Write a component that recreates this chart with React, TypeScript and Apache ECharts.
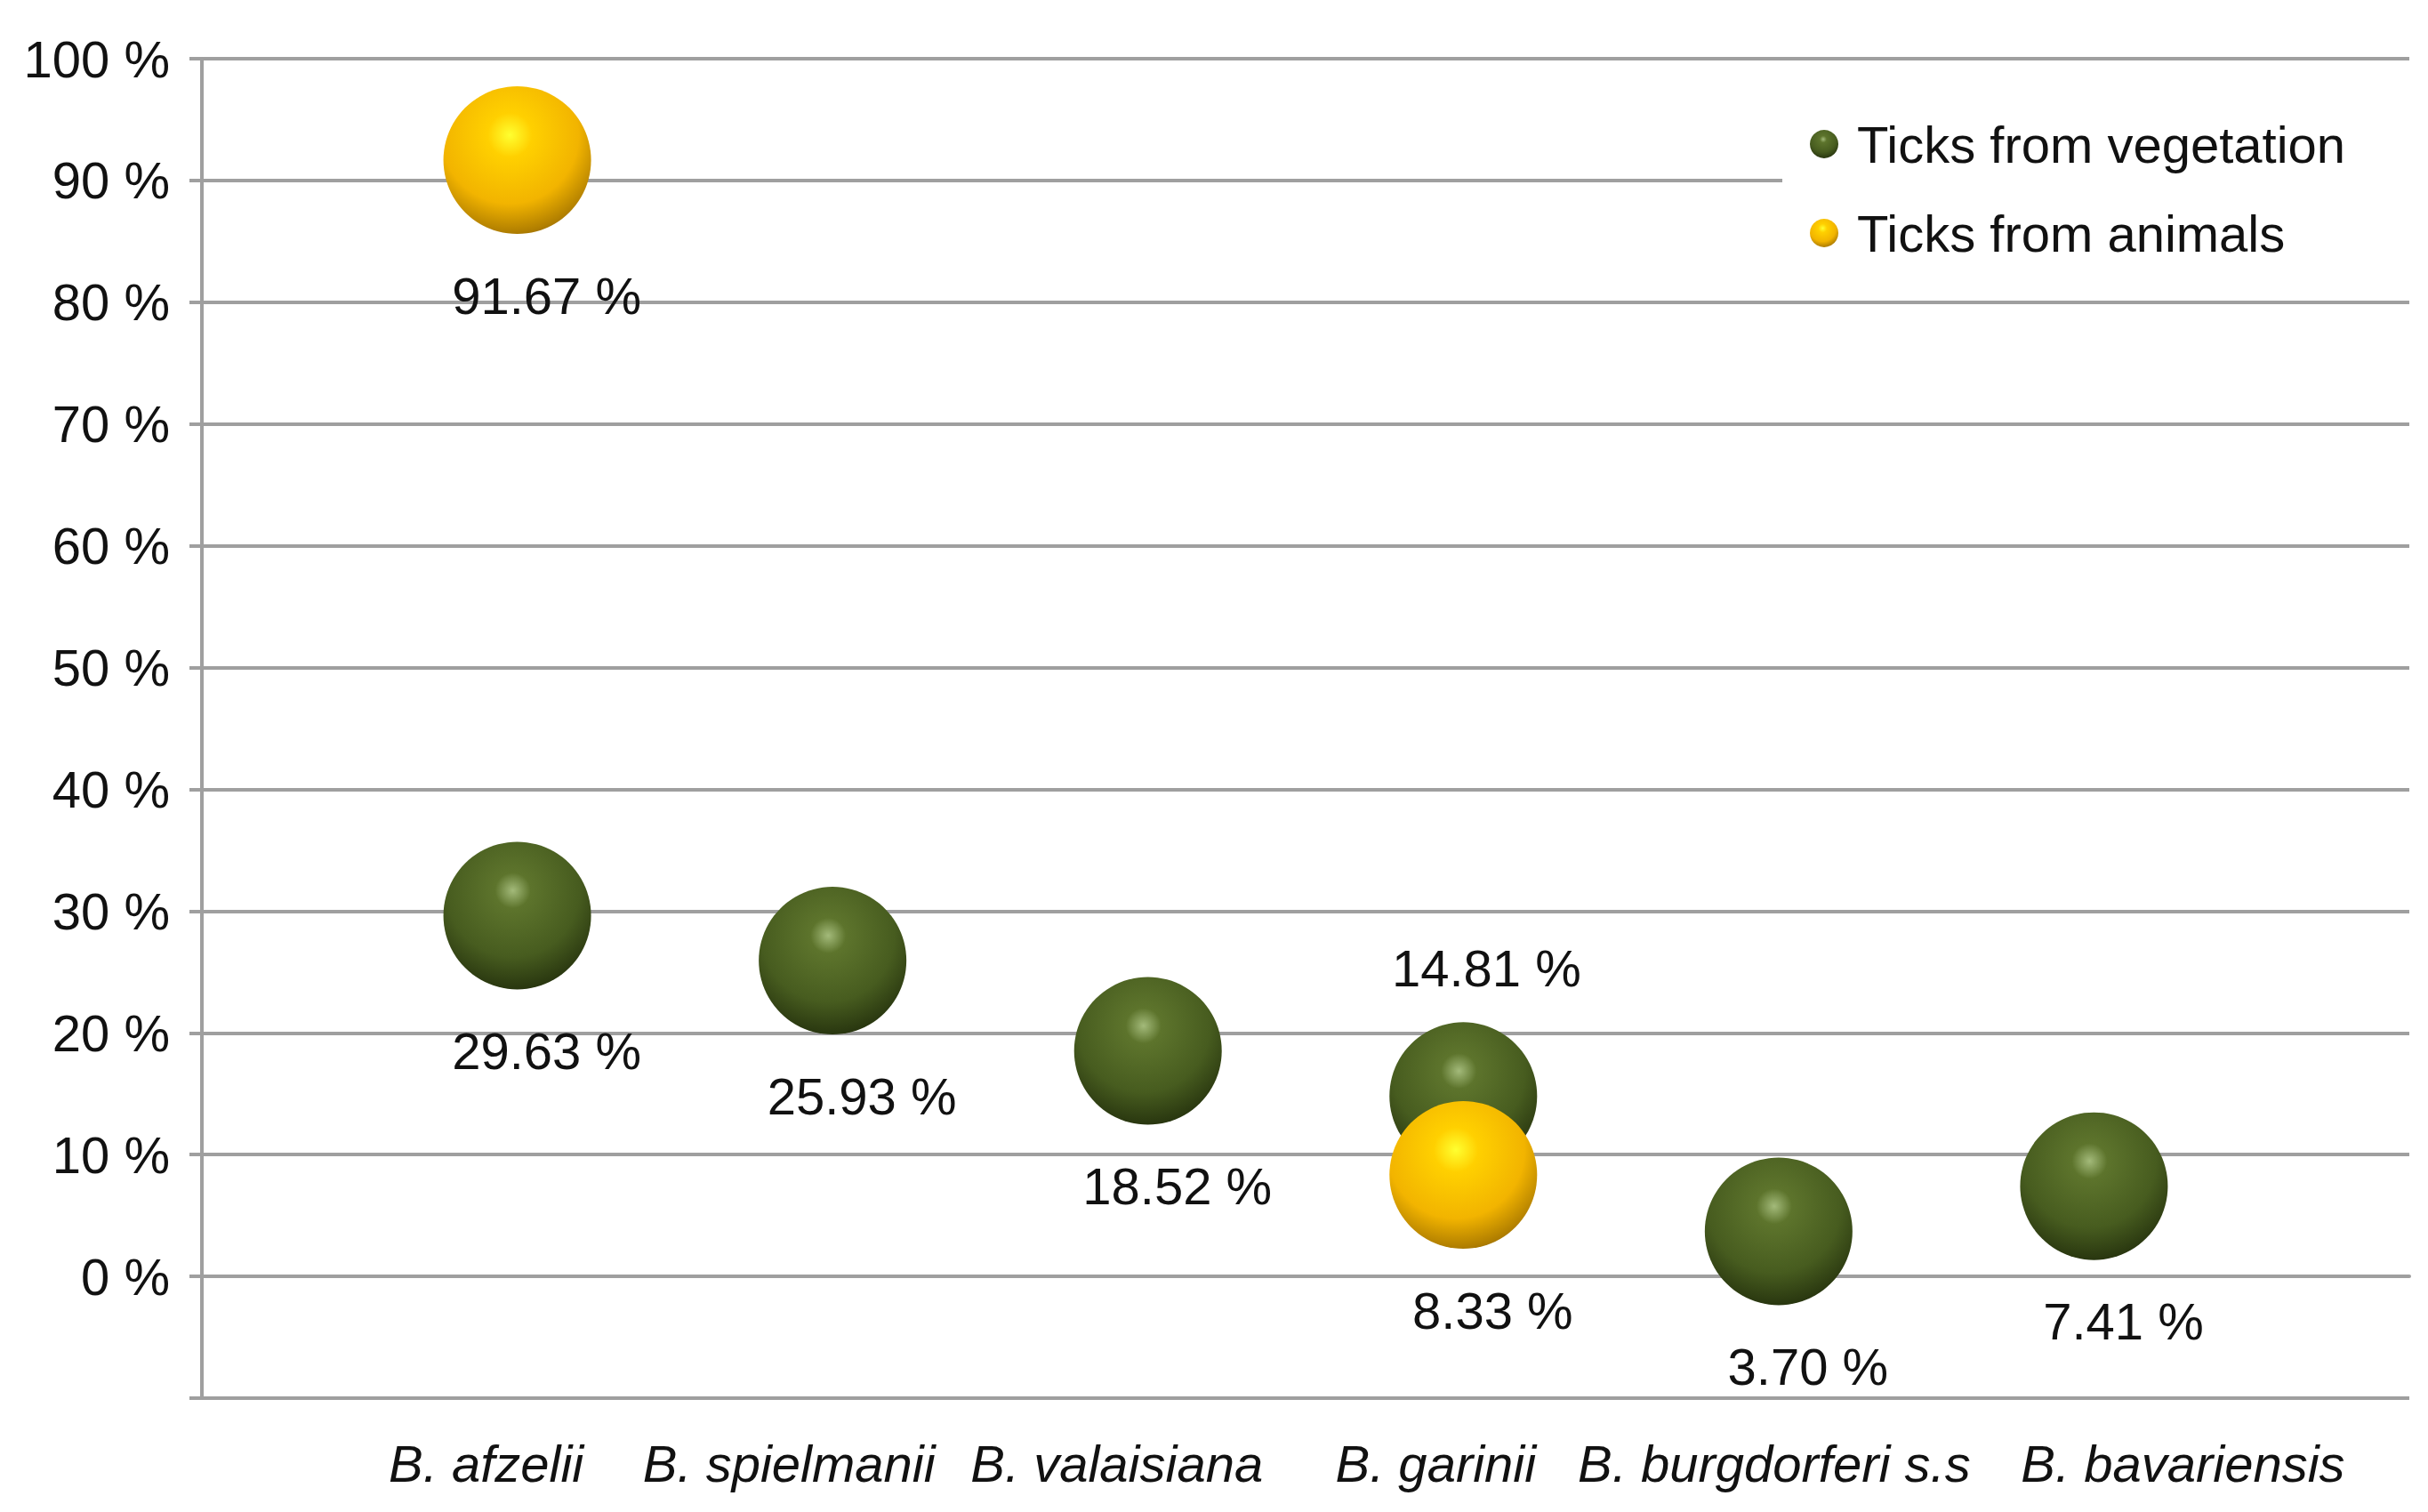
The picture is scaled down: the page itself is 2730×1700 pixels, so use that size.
import { useEffect, useRef } from 'react';
import * as echarts from 'echarts';

const species = [
  'B. afzelii',
  'B. spielmanii',
  'B. valaisiana',
  'B. garinii',
  'B. burgdorferi s.s',
  'B. bavariensis',
];
const vegetation = [29.63, 25.93, 18.52, 14.81, 3.7, 7.41];
const animals: (number | null)[] = [91.67, null, null, 8.33, null, null];
const yTicks = [0, 10, 20, 30, 40, 50, 60, 70, 80, 90, 100];
// species whose vegetation label sits above the ball
const labelAbove = ['B. garinii'];
// horizontal nudge of the category labels (px, + = right)
const labelShift = [-35, -49, -35, -31, -5, 100];

const FONT = '"Liberation Sans", Arial, sans-serif';
const GRID = '#9f9f9f';

const greenBall = new echarts.graphic.RadialGradient(0.47, 0.33, 0.75, [
  { offset: 0, color: '#a3ba7a' },
  { offset: 0.16, color: '#5d742c' },
  { offset: 0.6, color: '#475c1f' },
  { offset: 0.88, color: '#2a3810' },
  { offset: 1, color: '#1a2408' },
]);
const yellowBall = new echarts.graphic.RadialGradient(0.45, 0.33, 0.75, [
  { offset: 0, color: '#ffff30' },
  { offset: 0.2, color: '#ffd000' },
  { offset: 0.62, color: '#f2b400' },
  { offset: 0.88, color: '#b07e00' },
  { offset: 1, color: '#7e5a00' },
]);

export default function App() {
  const ref = useRef<HTMLDivElement | null>(null);

  useEffect(() => {
    if (!ref.current) return;
    const chart = echarts.init(ref.current, undefined, { renderer: 'svg' });

    const labelBase = {
      show: true,
      position: 'bottom' as const,
      distance: 40,
      offset: [33, 0],
      color: '#111111',
      fontSize: 58,
      fontFamily: FONT,
      formatter: (p: any) => `${p.value[1].toFixed(2)} %`,
    };

    const vegData = vegetation.map((v, i) => ({
      value: [i + 1, v],
      label: labelAbove.includes(species[i])
        ? { position: 'top' as const, distance: 32, offset: [26, 0] }
        : undefined,
    }));
    const aniData = animals
      .map((v, i) => (v === null ? null : { value: [i + 1, v] }))
      .filter((d) => d !== null);

    const rich: Record<string, any> = {};
    labelShift.forEach((s, i) => {
      rich[`s${i}`] = {
        fontSize: 58,
        fontStyle: 'italic',
        fontFamily: FONT,
        color: '#111111',
        padding: s >= 0 ? [0, 0, 0, 2 * s] : [0, -2 * s, 0, 0],
      };
    });

    chart.setOption({
      animation: false,
      backgroundColor: '#ffffff',
      textStyle: { fontFamily: FONT },
      grid: { left: 227, right: 21, top: 66, bottom: 128, containLabel: false },
      legend: {
        orient: 'vertical',
        left: 2004,
        top: 114,
        padding: [19, 80, 17, 31],
        backgroundColor: '#ffffff',
        itemGap: 42,
        itemWidth: 32,
        itemHeight: 32,
        icon: 'circle',
        textStyle: {
          fontSize: 58,
          color: '#111111',
          fontFamily: FONT,
          padding: [0, 0, 0, 16],
        },
        data: ['Ticks from vegetation', 'Ticks from animals'],
      },
      xAxis: {
        type: 'value',
        min: 0,
        max: species.length + 1,
        interval: 1,
        splitLine: { show: false },
        axisTick: { show: false },
        axisLine: { show: true, lineStyle: { color: GRID, width: 4 } },
        axisLabel: {
          margin: 44,
          formatter: (v: number) => {
            const i = Math.round(v) - 1;
            return i >= 0 && i < species.length ? `{s${i}|${species[i]}}` : '';
          },
          rich,
        },
      },
      yAxis: {
        type: 'value',
        min: -10,
        max: yTicks[yTicks.length - 1],
        interval: 10,
        axisLine: { show: true, lineStyle: { color: GRID, width: 4 } },
        axisTick: { show: true, length: 14, lineStyle: { color: GRID, width: 4 } },
        splitLine: { show: true, lineStyle: { color: GRID, width: 4 } },
        axisLabel: {
          margin: 36,
          fontSize: 58,
          color: '#111111',
          fontFamily: FONT,
          formatter: (v: number) => (yTicks.includes(v) ? `${v} %` : ''),
        },
      },
      series: [
        {
          name: 'Ticks from vegetation',
          type: 'scatter',
          symbol: 'circle',
          symbolSize: 166,
          itemStyle: { color: greenBall, opacity: 1 },
          label: labelBase,
          data: vegData,
          z: 3,
        },
        {
          name: 'Ticks from animals',
          type: 'scatter',
          symbol: 'circle',
          symbolSize: 166,
          itemStyle: { color: yellowBall, opacity: 1 },
          label: labelBase,
          data: aniData,
          z: 4,
        },
      ],
    });

    return () => chart.dispose();
  }, []);

  return (
    <div
      ref={ref}
      style={{ position: 'absolute', left: 0, top: 0, width: 2730, height: 1700 }}
    />
  );
}
